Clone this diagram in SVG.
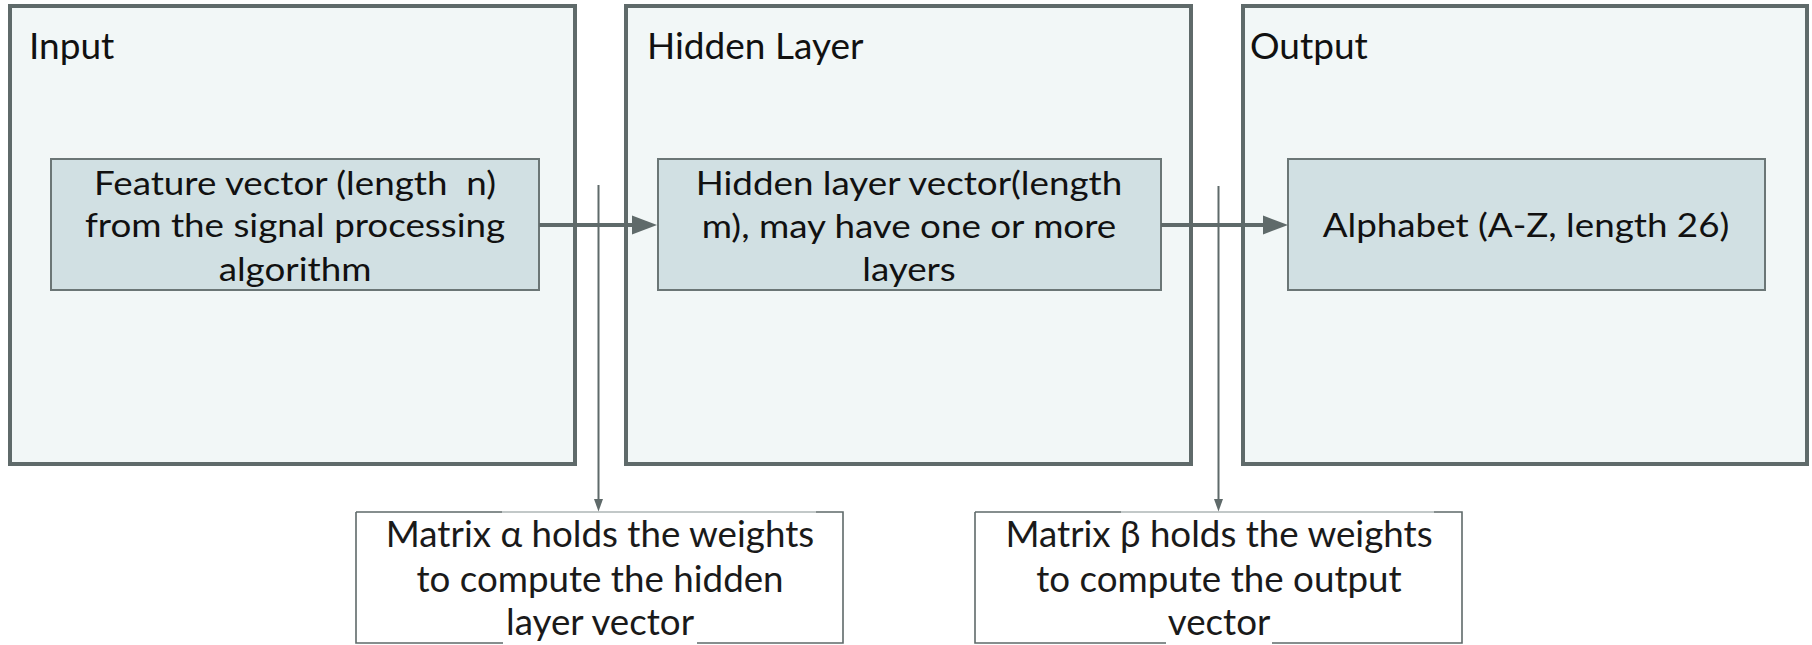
<svg xmlns="http://www.w3.org/2000/svg" width="1812" height="645" viewBox="0 0 1812 645">
  <defs>
    <style>
      .panel { fill: #f2f7f7; stroke: #5f6a6a; stroke-width: 4; }
      .vec { fill: #d1e0e3; stroke: #6b7676; stroke-width: 2; }
      .note { fill: #ffffff; }
      .edge { stroke: #5f6a6a; stroke-width: 1.6; fill: none; }
      .edge-soft { stroke: #aeb6b6; stroke-width: 1.6; fill: none; }
      .flow { stroke: #5f6a6a; stroke-width: 4; fill: none; }
      .tap { stroke: #5f6a6a; stroke-width: 2; fill: none; }
      .head { fill: #5f6a6a; }
      text { font-family: Lato, "Noto Sans", "Liberation Sans", sans-serif; fill: #111111; white-space: pre; }
      .title { font-size: 37px; }
      .body { font-size: 33.5px; text-anchor: middle; }
      .caption { font-size: 36px; text-anchor: middle; fill: #1a1a1a; }
    </style>
  </defs>

  <!-- layer panels -->
  <g id="input-layer">
    <rect class="panel" x="10" y="6" width="565" height="458"/>
    <text class="title" x="29" y="59">Input</text>
  </g>
  <g id="hidden-layer">
    <rect class="panel" x="626" y="6" width="565" height="458"/>
    <text class="title" x="647" y="59">Hidden Layer</text>
  </g>
  <g id="output-layer">
    <rect class="panel" x="1243" y="6" width="564" height="458"/>
    <text class="title" x="1250" y="59">Output</text>
  </g>

  <!-- vectors inside the panels (text is set slightly wide) -->
  <g id="feature-vector">
    <rect class="vec" x="51" y="159" width="488" height="131"/>
    <g transform="translate(295 0) scale(1.098 1)">
      <text class="body" x="0" y="195" xml:space="preserve">Feature vector (length  n)</text>
      <text class="body" x="0" y="237">from the signal processing</text>
      <text class="body" x="0" y="281">algorithm</text>
    </g>
  </g>
  <g id="hidden-vector">
    <rect class="vec" x="658" y="159" width="503" height="131"/>
    <g transform="translate(909 0) scale(1.098 1)">
      <text class="body" x="0" y="195">Hidden layer vector(length</text>
      <text class="body" x="0" y="238">m), may have one or more</text>
      <text class="body" x="0" y="281">layers</text>
    </g>
  </g>
  <g id="alphabet">
    <rect class="vec" x="1288" y="159" width="477" height="131"/>
    <g transform="translate(1526 0) scale(1.098 1)">
      <text class="body" x="0" y="237">Alphabet (A-Z, length 26)</text>
    </g>
  </g>

  <!-- weight matrix notes -->
  <g id="matrix-alpha">
    <rect class="note" x="356" y="512" width="487" height="131"/>
    <path class="edge" d="M356 512 H502 M816 512 H843 V643 H697 M503 643 H356 V512"/>
    <path class="edge-soft" d="M502 512 H816"/>
    <g transform="translate(600 0) scale(1.02 1)">
      <text class="caption" x="0" y="547">Matrix α holds the weights</text>
      <text class="caption" x="0" y="592">to compute the hidden</text>
      <text class="caption" x="0" y="635">layer vector</text>
    </g>
  </g>
  <g id="matrix-beta">
    <rect class="note" x="975" y="512" width="487" height="131"/>
    <path class="edge" d="M975 512 H1121 M1434 512 H1462 V643 H1272 M1166 643 H975 V512"/>
    <path class="edge-soft" d="M1121 512 H1434"/>
    <g transform="translate(1219 0) scale(1.02 1)">
      <text class="caption" x="0" y="547">Matrix β holds the weights</text>
      <text class="caption" x="0" y="592">to compute the output</text>
      <text class="caption" x="0" y="635">vector</text>
    </g>
  </g>

  <!-- connectors -->
  <g id="connectors">
    <line class="flow" x1="539" y1="225" x2="633" y2="225"/>
    <polygon class="head" points="632,215.5 657,225 632,234.5"/>
    <line class="flow" x1="1161" y1="225" x2="1264" y2="225"/>
    <polygon class="head" points="1263,215.5 1288,225 1263,234.5"/>

    <line class="tap" x1="598.5" y1="185" x2="598.5" y2="500"/>
    <polygon class="head" points="594,499 603,499 598.5,511.5"/>
    <line class="tap" x1="1218.5" y1="186" x2="1218.5" y2="500"/>
    <polygon class="head" points="1214,499 1223,499 1218.5,511.5"/>
  </g>
</svg>
